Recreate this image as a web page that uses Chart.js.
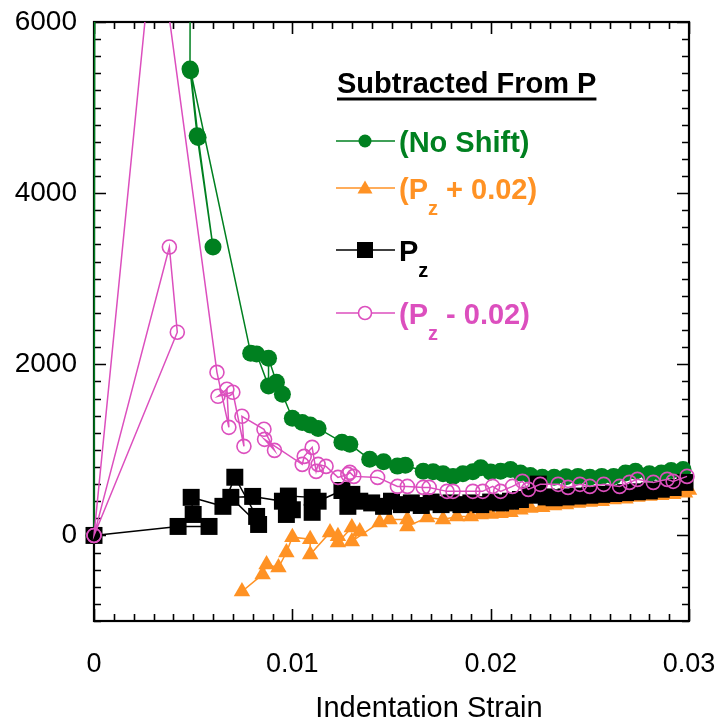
<!DOCTYPE html>
<html>
<head>
<meta charset="utf-8">
<script src="https://cdn.jsdelivr.net/npm/chart.js@4.4.1/dist/chart.umd.min.js"></script>
<style>
html,body{margin:0;padding:0;background:#fff;}
#wrap{width:721px;height:723px;}
</style>
</head>
<body>
<div id="wrap"><canvas id="c" width="721" height="723"></canvas></div>
<script>
// ---- data ----
const xNoShift = [0, 0.00007, 0.0049, 0.00484, 0.0052, 0.0060, 0.00525, 0.00487, 0.0079, 0.0082, 0.0088, 0.0088, 0.0092, 0.0095, 0.0100, 0.0105, 0.0109, 0.0113, 0.0125, 0.0129, 0.0139, 0.0146, 0.0153, 0.0157, 0.0166, 0.0171, 0.0176, 0.0181, 0.0186, 0.0191, 0.0195, 0.0200, 0.0205, 0.0210, 0.0215, 0.0220, 0.0226, 0.0232, 0.0238, 0.0244, 0.0250, 0.0256, 0.0262, 0.0268, 0.0273, 0.0280, 0.0286, 0.0291, 0.0297];
const yNoShift = [0, 12000, 12000, 5450, 4670, 3370, 4650, 5430, 2130, 2120, 1745, 2070, 1790, 1650, 1370, 1320, 1290, 1250, 1090, 1065, 890, 860, 810, 820, 750, 745, 720, 690, 720, 745, 790, 740, 750, 770, 730, 700, 680, 680, 685, 690, 680, 690, 690, 730, 750, 720, 730, 760, 770];

const xPlus = [0.00746, 0.0085, 0.0087, 0.0093, 0.0097, 0.0100, 0.0109, 0.0109, 0.0119, 0.0123, 0.0123, 0.0130, 0.0134, 0.0130, 0.0144, 0.0149, 0.0158, 0.0158, 0.0168, 0.0176, 0.0183, 0.0190, 0.0195, 0.0200, 0.0205, 0.0210, 0.0215, 0.0220, 0.0226, 0.0232, 0.0236, 0.0238, 0.0244, 0.0250, 0.0256, 0.0262, 0.0268, 0.0274, 0.0280, 0.0286, 0.0292, 0.0298, 0.0300];
const yPlus = [-655, -456, -340, -375, -200, -20, -45, -222, 35, -10, -82, 94, 47, -70, 152, 187, 187, 105, 210, 187, 222, 222, 245, 250, 260, 270, 300, 320, 330, 350, 480, 360, 380, 390, 400, 420, 430, 450, 460, 470, 480, 500, 530];

const xPz = [0, 0.00424, 0.0058, 0.0050, 0.0049, 0.0065, 0.0071, 0.0082, 0.0083, 0.0069, 0.0080, 0.0095, 0.0097, 0.0100, 0.0098, 0.0110, 0.0110, 0.0113, 0.0125, 0.0128, 0.0130, 0.0134, 0.0140, 0.0146, 0.0150, 0.0155, 0.0160, 0.0165, 0.0170, 0.0175, 0.0180, 0.0185, 0.0190, 0.0195, 0.0200, 0.0205, 0.0210, 0.0215, 0.0220, 0.0224, 0.0228, 0.0232, 0.0238, 0.0244, 0.0250, 0.0256, 0.0262, 0.0268, 0.0274, 0.0280, 0.0286, 0.0292, 0.0298];
const yPz = [0, 105, 105, 245, 445, 340, 680, 222, 128, 445, 456, 400, 245, 300, 460, 445, 270, 400, 525, 340, 480, 400, 380, 340, 400, 360, 380, 350, 390, 360, 380, 360, 380, 360, 390, 380, 400, 420, 470, 600, 450, 440, 450, 460, 470, 480, 490, 500, 510, 520, 540, 560, 620];

const xMinus = [0, 0.0038, 0.0042, 0, 0.0031, 0.0062, 0.0068, 0.0067, 0.00625, 0.0070, 0.00756, 0.00746, 0.00857, 0.0091, 0.0086, 0.0105, 0.0106, 0.0110, 0.0112, 0.0113, 0.0117, 0.0123, 0.0128, 0.0129, 0.0131, 0.0143, 0.0153, 0.0158, 0.0166, 0.0169, 0.0178, 0.0181, 0.0191, 0.0196, 0.0201, 0.0205, 0.0211, 0.0216, 0.0219, 0.0225, 0.0234, 0.0239, 0.0245, 0.0250, 0.0257, 0.0265, 0.0270, 0.0274, 0.0282, 0.0289, 0.0292, 0.0299];
const yMinus = [0, 3370, 2375, 0, 7250, 1906, 1263, 1708, 1626, 1673, 1041, 1392, 1240, 994, 1123, 830, 924, 1029, 748, 830, 807, 678, 713, 737, 690, 678, 573, 573, 561, 561, 515, 515, 515, 515, 573, 515, 573, 632, 538, 597, 597, 561, 597, 573, 597, 573, 620, 655, 620, 655, 632, 690];

const xTickValues = [0, 0.01, 0.02, 0.03];
const xTickLabels = ['0', '0.01', '0.02', '0.03'];
const yTickValues = [0, 2000, 4000, 6000];
const yTickLabels = ['0', '2000', '4000', '6000'];

const legendTitle = 'Subtracted From P';
const xTitle = 'Indentation Strain';

// ---- styles ----
const FONT = "'Liberation Sans', Arial, Helvetica, sans-serif";
const GREEN = '#008020', ORANGE = '#ff9224', BLACK = '#000000', MAGENTA = '#dc4fbe';

const pts = (xs, ys) => xs.map((x, i) => ({x: x, y: ys[i]}));
const clip = {left: 12, right: 12, top: 0, bottom: 12};
const noPad = s => { s.paddingLeft = 0; s.paddingRight = 0; s.paddingTop = 0; s.paddingBottom = 0; };

const framePlugin = {
  id: 'frame',
  beforeDatasetsDraw(chart) {
    const {ctx, chartArea: a, scales: {x, y}} = chart;
    ctx.save();
    ctx.strokeStyle = '#000';
    ctx.lineWidth = 1.6;
    ctx.beginPath();
    for (let i = 0; i <= 30; i++) {
      const px = Math.round(x.getPixelForValue(i * 0.001)) + 0.5;
      const L = (i % 10 === 0) ? 12 : 7;
      ctx.moveTo(px, a.bottom); ctx.lineTo(px, a.bottom - L);
      ctx.moveTo(px, a.top); ctx.lineTo(px, a.top + L);
    }
    for (let v = -1000; v <= 6000; v += 200) {
      const py = Math.round(y.getPixelForValue(v)) + 0.5;
      const L = (v % 2000 === 0) ? 12 : 7;
      ctx.moveTo(a.left, py); ctx.lineTo(a.left + L, py);
      ctx.moveTo(a.right, py); ctx.lineTo(a.right - L, py);
    }
    ctx.stroke();
    ctx.lineWidth = 2.2;
    ctx.strokeRect(a.left, a.top, a.right - a.left, a.bottom - a.top);
    ctx.restore();
  },
  afterDraw(chart) {
    const ctx = chart.ctx;
    ctx.save();
    // x axis title
    ctx.fillStyle = '#000';
    ctx.font = '29px ' + FONT;
    ctx.textAlign = 'center';
    ctx.textBaseline = 'alphabetic';
    ctx.fillText(xTitle, 429, 717);
    // legend title
    ctx.textAlign = 'left';
    ctx.font = 'bold 29px ' + FONT;
    ctx.fillText(legendTitle, 337, 93);
    const tw = ctx.measureText(legendTitle).width;
    ctx.fillRect(337, 97.5, tw, 3);
    // legend entries
    const items = [
      {y: 141, color: GREEN, style: 'circle', parts: [['(No Shift)', 0]]},
      {y: 188, color: ORANGE, style: 'triangle', parts: [['(P', 0], ['z', 1], [' + 0.02)', 0]]},
      {y: 250, color: BLACK, style: 'rect', parts: [['P', 0], ['z', 1]]},
      {y: 313, color: MAGENTA, style: 'open', parts: [['(P', 0], ['z', 1], [' - 0.02)', 0]]}
    ];
    items.forEach(it => {
      ctx.strokeStyle = it.color;
      ctx.fillStyle = it.color;
      ctx.lineWidth = 1.5;
      ctx.beginPath(); ctx.moveTo(336, it.y); ctx.lineTo(395, it.y); ctx.stroke();
      const cx = 365, cy = it.y;
      ctx.beginPath();
      if (it.style === 'circle') { ctx.arc(cx, cy, 6.5, 0, Math.PI * 2); ctx.fill(); }
      else if (it.style === 'triangle') { ctx.moveTo(cx, cy - 7.5); ctx.lineTo(cx + 7.5, cy + 5.5); ctx.lineTo(cx - 7.5, cy + 5.5); ctx.closePath(); ctx.fill(); }
      else if (it.style === 'rect') { ctx.rect(cx - 8, cy - 8, 16, 16); ctx.fill(); }
      else { ctx.fillStyle = '#fff'; ctx.arc(cx, cy, 6.5, 0, Math.PI * 2); ctx.fill(); ctx.lineWidth = 1.6; ctx.stroke(); ctx.fillStyle = it.color; }
      let tx = 399;
      it.parts.forEach(p => {
        if (p[1]) { ctx.font = 'bold 20px ' + FONT; ctx.fillText(p[0], tx, it.y + 27); }
        else { ctx.font = 'bold 29px ' + FONT; ctx.fillText(p[0], tx, it.y + 11); }
        tx += ctx.measureText(p[0]).width;
      });
    });
    ctx.restore();
  }
};

new Chart(document.getElementById('c'), {
  type: 'scatter',
  data: {
    datasets: [
      {label: '(Pz - 0.02)', data: pts(xMinus, yMinus), showLine: true, borderColor: MAGENTA, backgroundColor: 'rgba(0,0,0,0)', pointBorderColor: MAGENTA, pointBackgroundColor: 'rgba(0,0,0,0)', pointStyle: 'circle', pointRadius: 7, pointBorderWidth: 1.6, borderWidth: 1.5, order: 1, clip: clip},
      {label: 'Pz', data: pts(xPz, yPz), showLine: true, borderColor: BLACK, backgroundColor: BLACK, pointBackgroundColor: BLACK, pointBorderColor: BLACK, pointStyle: 'rect', pointRadius: 12, pointBorderWidth: 0, borderWidth: 1.5, order: 2, clip: clip},
      {label: '(Pz + 0.02)', data: pts(xPlus, yPlus), showLine: true, borderColor: ORANGE, backgroundColor: ORANGE, pointBackgroundColor: ORANGE, pointBorderColor: ORANGE, pointStyle: 'triangle', pointRadius: 9.5, pointBorderWidth: 0, borderWidth: 1.5, order: 3, clip: clip},
      {label: '(No Shift)', data: pts(xNoShift, yNoShift), showLine: true, borderColor: GREEN, backgroundColor: GREEN, pointBackgroundColor: GREEN, pointBorderColor: GREEN, pointStyle: 'circle', pointRadius: 8.5, pointBorderWidth: 0, borderWidth: 1.5, order: 4, clip: clip}
    ]
  },
  options: {
    responsive: false,
    animation: false,
    events: [],
    layout: {padding: {top: 22, right: 32, left: 0, bottom: 0}},
    plugins: {legend: {display: false}, tooltip: {enabled: false}},
    scales: {
      x: {
        type: 'linear', min: 0, max: 0.03,
        afterFit: s => { s.height = 102; noPad(s); },
        afterBuildTicks: s => { s.ticks = xTickValues.map(v => ({value: v})); },
        ticks: {callback: v => xTickLabels[xTickValues.indexOf(v)], font: {size: 27, family: FONT}, color: '#000', padding: 27, maxRotation: 0, autoSkip: false},
        grid: {display: false, drawTicks: false},
        border: {display: false}
      },
      y: {
        type: 'linear', min: -1000, max: 6000,
        afterFit: s => { s.width = 94; noPad(s); },
        afterBuildTicks: s => { s.ticks = yTickValues.map(v => ({value: v})); },
        ticks: {callback: v => yTickLabels[yTickValues.indexOf(v)], font: {size: 28, family: FONT}, color: '#000', padding: 17, autoSkip: false},
        grid: {display: false, drawTicks: false},
        border: {display: false}
      }
    }
  },
  plugins: [framePlugin]
});
</script>
</body>
</html>
